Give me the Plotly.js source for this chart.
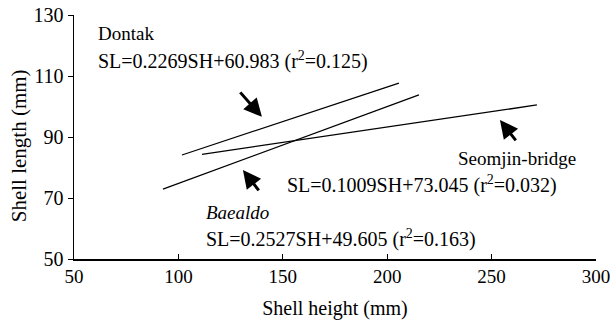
<!DOCTYPE html>
<html><head><meta charset="utf-8">
<script src="https://cdn.plot.ly/plotly-3.0.1.min.js"></script>
<style>body{margin:0;background:#fff}#c{width:612px;height:323px}</style>
</head><body><div id="c"></div>
<script>
// Regression line endpoints
const sites = ["Dontak", "Seomjin-bridge", "Baealdo"];
const dontakX = [101.7, 205.6];
const dontakY = [84.1, 107.7];
const seomjinX = [111.3, 271.7];
const seomjinY = [84.3, 100.5];
const baealdoX = [92.6, 215.2];
const baealdoY = [72.9, 103.8];
const xTicks = [50, 100, 150, 200, 250, 300];
const yTicks = [50, 70, 90, 110, 130];
const equations = [
  "SL=0.2269SH+60.983 (r<sup>2</sup>=0.125)",
  "SL=0.1009SH+73.045 (r<sup>2</sup>=0.032)",
  "SL=0.2527SH+49.605 (r<sup>2</sup>=0.163)"
];
const xTitle = "Shell height (mm)";
const yTitle = "Shell length (mm)";

const F = "Liberation Serif";
const lineStyle = {color: "#000", width: 1.3};
const traces = [
  {x: dontakX, y: dontakY, mode: "lines", line: lineStyle, name: sites[0]},
  {x: seomjinX, y: seomjinY, mode: "lines", line: lineStyle, name: sites[1]},
  {x: baealdoX, y: baealdoY, mode: "lines", line: lineStyle, name: sites[2]}
];

function txt(x, y, text, size) {
  return {x: x, y: y, xref: "x", yref: "y", text: text, showarrow: false,
    xanchor: "left", yanchor: "middle", font: {family: F, size: size, color: "#000"}};
}
function arrow(x, y, ax, ay) {
  return {x: x, y: y, xref: "x", yref: "y", ax: ax, ay: ay, text: "", showarrow: true,
    arrowhead: 2, arrowsize: 1.2, arrowwidth: 3, arrowcolor: "#000"};
}

const annotations = [
  txt(60.5, 124.1, sites[0], 19),
  txt(60.5, 115.2, equations[0], 20),
  arrow(140.0, 96.6, -23, -26),
  txt(233, 83.1, sites[1], 19),
  txt(151, 74.3, equations[1], 20),
  arrow(254.0, 95.6, 17, 22),
  txt(112.3, 65.4, "<i>" + sites[2] + "</i>", 19),
  txt(112.3, 56.6, equations[2], 20),
  arrow(130.9, 79.2, 17, 22),
  {x: -0.105, y: 0.463, xref: "paper", yref: "paper", text: yTitle, textangle: -90,
   showarrow: false, xanchor: "center", yanchor: "middle",
   font: {family: F, size: 21, color: "#000"}}
];

const layout = {
  width: 612, height: 323,
  margin: {l: 74, r: 16, t: 15, b: 64},
  paper_bgcolor: "#fff", plot_bgcolor: "#fff",
  showlegend: false,
  font: {family: F, color: "#000", size: 18},
  xaxis: {
    range: [50, 300], tickvals: xTicks, ticktext: xTicks.map(String),
    showgrid: false, zeroline: false, showline: true, linecolor: "#000", linewidth: 1.5,
    ticks: "inside", ticklen: 5, tickcolor: "#000", tickwidth: 1,
    tickfont: {family: F, size: 19},
    title: {text: xTitle, font: {family: F, size: 20}, standoff: 14}
  },
  yaxis: {
    range: [50, 130], tickvals: yTicks, ticktext: yTicks.map(String),
    showgrid: false, zeroline: false, showline: true, linecolor: "#000", linewidth: 1.5,
    ticks: "outside", ticklen: 5, tickcolor: "#000", tickwidth: 1,
    tickfont: {family: F, size: 20}
  },
  annotations: annotations
};

Plotly.newPlot("c", traces, layout, {staticPlot: true, displayModeBar: false});
</script></body></html>
